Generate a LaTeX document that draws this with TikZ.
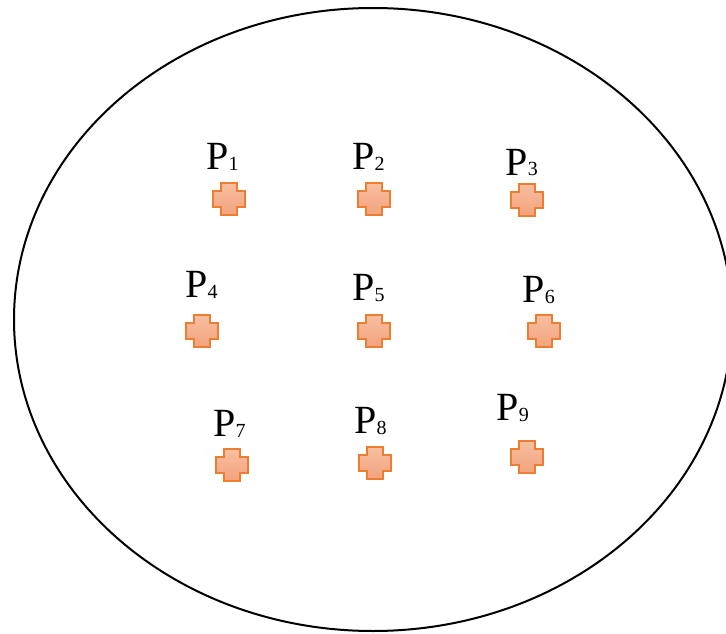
\documentclass[tikz,border=0pt]{standalone}
\usepackage{fontspec}
\setmainfont{Liberation Serif}
\usetikzlibrary{shapes.geometric}
\definecolor{crossedge}{RGB}{237,125,49}
\definecolor{crosstop}{RGB}{248,190,160}
\definecolor{crossbot}{RGB}{242,163,124}
\tikzset{
  crossstyle/.style={top color=crosstop, bottom color=crossbot, draw=crossedge, line width=1.3pt, line join=miter},
  plusmark/.pic={\path[crossstyle] (-16,-8) -- (-8,-8) -- (-8,-16) -- (8,-16) -- (8,-8) -- (16,-8) -- (16,8) -- (8,8) -- (8,16) -- (-8,16) -- (-8,8) -- (-16,8) -- cycle;},
  plabel/.style={anchor=base west, inner sep=0pt, outer sep=0pt},
  frame/.style={draw=black, line width=2pt}
}
\newcommand\plab[3]{\node[plabel] (#1) at (#2) {\fontsize{40}{40}\selectfont P\fontsize{20}{20}\selectfont\raisebox{-1pt}{#3}};}
\begin{document}
\begin{tikzpicture}[x=1pt,y=-1pt]
  \useasboundingbox (0,0) rectangle (726,634);
  \clip (0,0) rectangle (726,634);
  \fill[white] (0,0) rectangle (726,634);
  \node[frame, ellipse, minimum width=718pt, minimum height=623pt, inner sep=0pt] (region) at (373,319.5) {};
  % crosses
  \pic (c1) at (229,199) {plusmark};
  \pic (c2) at (374,199) {plusmark};
  \pic (c3) at (527,200) {plusmark};
  \pic (c4) at (202,331) {plusmark};
  \pic (c5) at (374,331) {plusmark};
  \pic (c6) at (544,331) {plusmark};
  \pic (c7) at (232,465) {plusmark};
  \pic (c8) at (375,463) {plusmark};
  \pic (c9) at (527,457) {plusmark};
  % labels
  \plab{p1}{206.5,169}{1}
  \plab{p2}{352.5,169}{2}
  \plab{p3}{505.5,175}{3}
  \plab{p4}{185.5,297}{4}
  \plab{p5}{352.5,300}{5}
  \plab{p6}{522.5,302}{6}
  \plab{p7}{213.5,436}{7}
  \plab{p8}{354.5,433}{8}
  \plab{p9}{496.5,420}{9}
\end{tikzpicture}
\end{document}
